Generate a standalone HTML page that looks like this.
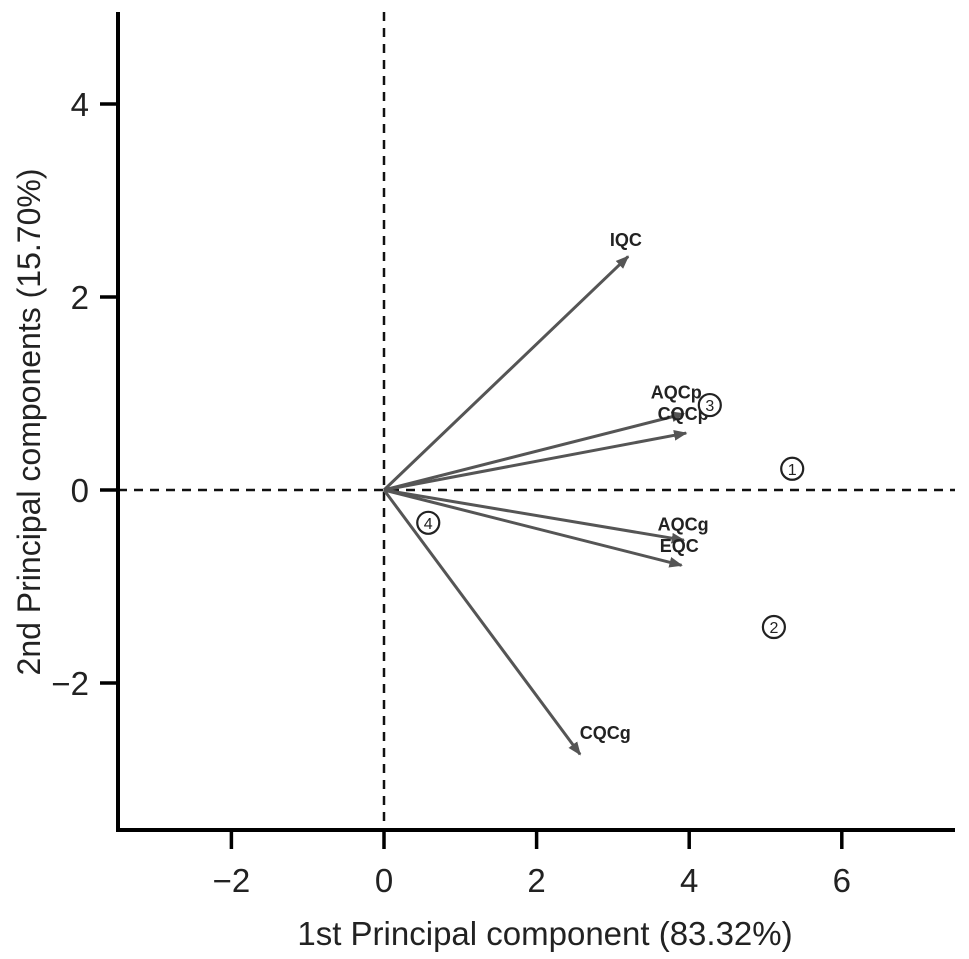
<!DOCTYPE html>
<html><head><meta charset="utf-8"><style>
body{margin:0;background:#fff}
svg{display:block;font-family:"Liberation Sans",Arial,sans-serif}
</style></head><body>
<svg id="chart" width="969" height="959" viewBox="0 0 969 959">
<defs><marker id="ah" viewBox="0 0 10 10" refX="9" refY="5" markerWidth="4.5" markerHeight="4.5" orient="auto"><path d="M0,1 L10,5 L0,9 z" fill="#555"/></marker></defs>
<g id="g"></g>
</svg>
<script>
const xTicks=[-2,0,2,4,6];
const yTicks=[4,2,0,-2];
const varNames=["IQC","AQCp","CQCp","AQCg","EQC","CQCg"];
const varX=[3.2,3.93,3.96,3.93,3.9,2.57];
const varY=[2.42,0.79,0.59,-0.52,-0.78,-2.74];
const labelDY=[0.17,0.22,0.2,0.16,0.2,0.22];
const labelX=[3.17,3.83,3.92,3.92,3.87,2.9];
const obsNames=["1","2","3","4"];
const obsX=[5.35,5.11,4.27,0.58];
const obsY=[0.22,-1.42,0.88,-0.34];
const sx=v=>384+v*76.3, sy=v=>490-v*96.5;
const g=document.getElementById('g'), NS="http://www.w3.org/2000/svg";
function mk(t,a,txt){const e=document.createElementNS(NS,t);for(const k in a)e.setAttribute(k,a[k]);if(txt!=null)e.textContent=txt;g.appendChild(e);return e;}
let e;
e=mk('line',{x1:384,y1:12,x2:384,y2:830,stroke:'#111','stroke-width':2.5,'stroke-dasharray':'9,7'});


e=mk('line',{x1:118,y1:490,x2:955,y2:490,stroke:'#111','stroke-width':2.5,'stroke-dasharray':'9,7'});


e=mk('path',{d:'M118,12 V830 H955',fill:'none',stroke:'#000','stroke-width':4});


xTicks.forEach(t=>{
 e=mk('line',{x1:sx(t),y1:830,x2:sx(t),y2:849,stroke:'#000','stroke-width':3.5});
 
 
 e=mk('text',{x:sx(t),y:892,'text-anchor':'middle','font-size':33,fill:'#222'},t<0?'\u2212'+(-t):String(t));
 
 
});
yTicks.forEach(t=>{
 e=mk('line',{x1:100,y1:sy(t),x2:118,y2:sy(t),stroke:'#000','stroke-width':3.5});
 
 
 e=mk('text',{x:89,y:sy(t)+12,'text-anchor':'end','font-size':33,fill:'#222'},t<0?'\u2212'+(-t):String(t));
 
 
});
e=mk('text',{x:545,y:945,'text-anchor':'middle','font-size':33,fill:'#222'},'1st Principal component (83.32%)');


e=mk('text',{x:0,y:0,'text-anchor':'middle','font-size':32,fill:'#222',transform:'translate(40,422) rotate(-90)'},'2nd Principal components (15.70%)');


varNames.forEach((n,i)=>{
 e=mk('line',{x1:sx(0),y1:sy(0),x2:sx(varX[i]),y2:sy(varY[i]),stroke:'#555','stroke-width':3,'marker-end':'url(#ah)'});
 
 
 e=mk('text',{x:sx(labelX[i]),y:sy(varY[i]+labelDY[i])+6,'text-anchor':'middle','font-size':18,'font-weight':'bold',fill:'#222'},n);
 
 
});
obsNames.forEach((n,i)=>{
 e=mk('circle',{cx:sx(obsX[i]),cy:sy(obsY[i]),r:11,fill:'#fff',stroke:'#222','stroke-width':2.2});
 
 
 e=mk('text',{x:sx(obsX[i]),y:sy(obsY[i])+6,'text-anchor':'middle','font-size':16,fill:'#222'},n);
 
 
});
</script>
</body></html>
